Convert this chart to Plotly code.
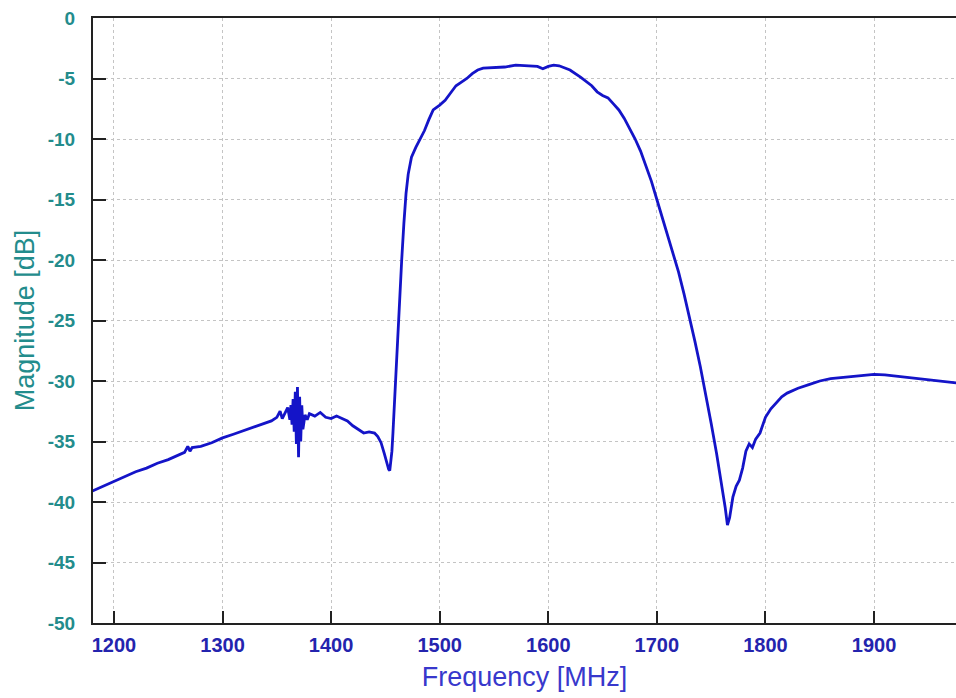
import plotly.graph_objects as go

freq_mhz = [1180, 1190, 1200, 1210, 1220, 1230, 1240, 1250, 1260, 1265, 1268, 1270, 1272, 1280, 1290,
            1300, 1310, 1320, 1330, 1340, 1345, 1350, 1353, 1355, 1358, 1360, 1362, 1363, 1364, 1365,
            1366, 1367, 1368, 1369, 1370, 1371, 1372, 1373, 1374, 1376, 1378, 1380, 1385, 1390, 1395,
            1400, 1405, 1410, 1415, 1420, 1425, 1430, 1435, 1440, 1443, 1446, 1449, 1451, 1453, 1454,
            1455, 1456, 1457, 1458, 1459, 1460, 1461, 1462, 1463, 1465, 1467, 1469, 1471, 1474, 1478,
            1482, 1486, 1490, 1494, 1500, 1505, 1510, 1515, 1520, 1525, 1530, 1535, 1540, 1550, 1560,
            1570, 1580, 1590, 1595, 1600, 1605, 1610, 1620, 1630, 1640, 1645, 1650, 1655, 1660, 1665,
            1670, 1675, 1680, 1685, 1690, 1695, 1700, 1705, 1710, 1715, 1720, 1725, 1730, 1735, 1740,
            1745, 1750, 1755, 1760, 1763, 1765, 1767, 1770, 1773, 1776, 1779, 1782, 1785, 1788, 1791,
            1795, 1800, 1805, 1810, 1815, 1820, 1830, 1840, 1850, 1860, 1870, 1880, 1890, 1900, 1910,
            1920, 1930, 1940, 1950, 1960, 1970, 1980]

magnitude_db = [-39.1, -38.7, -38.3, -37.9, -37.5, -37.2, -36.8, -36.5, -36.1, -35.9, -35.4, -35.8, -35.5, -35.4, -35.1,
                -34.7, -34.4, -34.1, -33.8, -33.5, -33.3, -33.0, -32.5, -33.1, -32.6, -32.2, -33.2, -32.0, -33.6, -31.5,
                -34.2, -30.9, -35.2, -30.5, -36.3, -31.3, -35.0, -32.0, -34.0, -32.8, -33.2, -32.7, -32.9, -32.6, -33.0,
                -33.1, -32.9, -33.1, -33.3, -33.7, -34.0, -34.3, -34.2, -34.3, -34.6, -35.1, -36.0, -36.7, -37.3, -37.4,
                -36.8, -35.8, -34.2, -32.3, -30.5, -28.5, -26.5, -24.7, -23.0, -20.0, -17.0, -14.5, -12.9, -11.5, -10.7,
                -10.0, -9.3, -8.4, -7.6, -7.2, -6.8, -6.2, -5.6, -5.3, -5.0, -4.6, -4.3, -4.15, -4.1, -4.05,
                -3.9, -3.95, -4.0, -4.2, -4.0, -3.9, -3.95, -4.3, -4.9, -5.6, -6.1, -6.4, -6.6, -7.1, -7.6,
                -8.3, -9.1, -10.0, -11.0, -12.2, -13.5, -15.0, -16.5, -18.0, -19.5, -21.0, -22.8, -24.7, -26.7, -28.8,
                -31.0, -33.5, -36.0, -38.6, -40.5, -41.9, -41.3, -39.6, -38.7, -38.2, -37.2, -35.8, -35.2, -35.5, -34.8,
                -34.3, -33.0, -32.3, -31.8, -31.3, -31.0, -30.6, -30.3, -30.0, -29.8, -29.7, -29.6, -29.5, -29.45, -29.5,
                -29.6, -29.7, -29.8, -29.9, -30.0, -30.1, -30.2]

x_ticks = [1200, 1300, 1400, 1500, 1600, 1700, 1800, 1900]
y_ticks = [0, -5, -10, -15, -20, -25, -30, -35, -40, -45, -50]

teal = "#238c8c"
blue = "#2424ae"
font_family = "Liberation Sans, Arial, sans-serif"

fig = go.Figure()
fig.add_trace(go.Scatter(
    x=freq_mhz, y=magnitude_db, mode="lines",
    line=dict(color="#1414c8", width=2.8),
    showlegend=False,
))

fig.update_layout(
    width=956, height=698,
    margin=dict(l=93, r=0, t=18, b=75),
    paper_bgcolor="white", plot_bgcolor="white",
    font=dict(family=font_family),
)

fig.update_xaxes(
    range=[1180.7, 1975.5],
    tickvals=x_ticks, ticktext=[str(v) for v in x_ticks],
    ticks="inside", ticklen=12, tickwidth=2, tickcolor="#222222",
    showline=True, linecolor="#222222", linewidth=2, mirror=True,
    showgrid=True, gridcolor="#c4c4c4", griddash="dot", gridwidth=1,
    zeroline=False,
    tickfont=dict(color=blue, size=20, family=font_family, weight="bold"),
    ticklabelstandoff=3,
    title=dict(text="Frequency [MHz]", font=dict(color="#3838cc", size=27), standoff=12),
)

fig.update_yaxes(
    range=[-50, 0],
    tickvals=y_ticks, ticktext=[str(v) for v in y_ticks],
    ticks="inside", ticklen=13, tickwidth=2, tickcolor="#222222",
    showline=True, linecolor="#222222", linewidth=2, mirror=False,
    showgrid=True, gridcolor="#c4c4c4", griddash="dot", gridwidth=1,
    zeroline=False,
    tickfont=dict(color=teal, size=19, family=font_family, weight="bold"),
    ticklabelstandoff=12,
    title=dict(text="Magnitude [dB]", font=dict(color=teal, size=27), standoff=5),
)

fig.write_html("out.html")
